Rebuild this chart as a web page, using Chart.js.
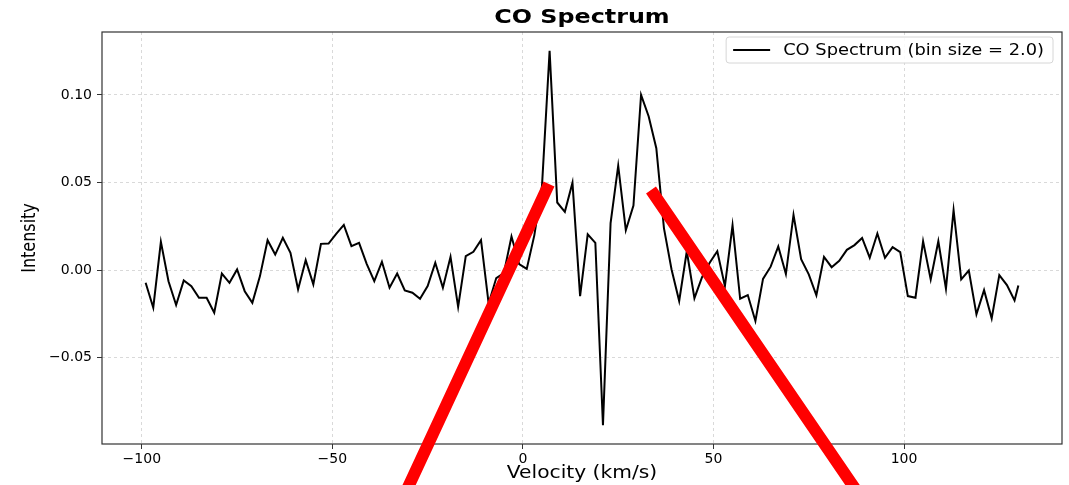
<!DOCTYPE html>
<html>
<head>
<meta charset="utf-8">
<script src="https://cdn.jsdelivr.net/npm/chart.js"></script>
<style>
  html, body { margin: 0; padding: 0; background: #fff; }
  #wrap { width: 1069px; height: 485px; }
</style>
</head>
<body>
<div id="wrap"><canvas id="spectrum" width="1069" height="485"></canvas></div>
<script>
// velocity bin centres (km/s), bin size 2.0
const velocities = [
  -99, -97, -95, -93, -91, -89, -87, -85, -83, -81, -79, -77, -75, -73, -71, -69, -67, -65, -63, -61,
  -59, -57, -55, -53, -51, -49, -47, -45, -43, -41, -39, -37, -35, -33, -31, -29, -27, -25, -23, -21,
  -19, -17, -15, -13, -11, -9, -7, -5, -3, -1, 1, 3, 5, 7, 9, 11, 13, 15, 17, 19,
  21, 23, 25, 27, 29, 31, 33, 35, 37, 39, 41, 43, 45, 47, 49, 51, 53, 55, 57, 59,
  61, 63, 65, 67, 69, 71, 73, 75, 77, 79, 81, 83, 85, 87, 89, 91, 93, 95, 97, 99,
  101, 103, 105, 107, 109, 111, 113, 115, 117, 119, 121, 123, 125, 127, 129, 130
];

const intensities = [
  -0.0072, -0.0214, 0.0162, -0.0063, -0.0199, -0.0059, -0.0091, -0.0157, -0.0157, -0.0243,
  -0.0019, -0.0072, 0.0004, -0.0120, -0.0186, -0.0034, 0.0171, 0.0089, 0.0184, 0.0099,
  -0.0110, 0.0057, -0.0081, 0.0150, 0.0152, 0.0207, 0.0258, 0.0137, 0.0156, 0.0036,
  -0.0063, 0.0048, -0.0100, -0.0019, -0.0116, -0.0129, -0.0163, -0.0091, 0.0042, -0.0100,
  0.0076, -0.0209, 0.0080, 0.0105, 0.0171, -0.0190, -0.0045, -0.0017, 0.0192, 0.0035,
  0.0007, 0.0200, 0.0480, 0.1252, 0.0386, 0.0333, 0.0499, -0.0148, 0.0204, 0.0156,
  -0.0885, 0.0269, 0.0596, 0.0228, 0.0368, 0.1000, 0.0877, 0.0696, 0.0240, 0.0004,
  -0.0176, 0.0108, -0.0160, -0.0040, 0.0042, 0.0108, -0.0091, 0.0256, -0.0163, -0.0142,
  -0.0290, -0.0050, 0.0020, 0.0135, -0.0022, 0.0315, 0.0063, -0.0024, -0.0143, 0.0076,
  0.0017, 0.0053, 0.0116, 0.0143, 0.0184, 0.0071, 0.0209, 0.0071, 0.0131, 0.0103,
  -0.0148, -0.0157, 0.0165, -0.0053, 0.0165, -0.0106, 0.0342, -0.0053, -0.0002, -0.0252,
  -0.0114, -0.0275, -0.0028, -0.0085, -0.0173, -0.0087
];

const xTicks = [-100, -50, 0, 50, 100];
const yTicks = [-0.05, 0.00, 0.05, 0.10];

const chartTitle = 'CO Spectrum';
const xTitle = 'Velocity (km/s)';
const yTitle = 'Intensity';
const seriesLabel = 'CO Spectrum (bin size = 2.0)';

const FONT = "'DejaVu Sans', sans-serif";
const STRETCH = 1.19; // the source picture is widened a little

// matplotlib style 5% margins around the data
const withMargin = (values) => {
  const lo = Math.min(...values);
  const hi = Math.max(...values);
  const pad = (hi - lo) * 0.05;
  return { min: lo - pad, max: hi + pad };
};

const xRange = withMargin(velocities);
const yRange = withMargin(intensities);

const minusSign = (text) => text.replace('-', '\u2212');

const wideText = (ctx, text, x, y, font, align = 'center', rotate = false) => {
  ctx.save();
  ctx.translate(x, y);
  ctx.scale(STRETCH, 1);
  if (rotate) ctx.rotate(-Math.PI / 2);
  ctx.font = font;
  ctx.fillStyle = '#000';
  ctx.textAlign = align;
  ctx.textBaseline = 'middle';
  ctx.fillText(text, 0, 0);
  ctx.restore();
};

// frame, titles, inset legend and the red marker strokes
const decorations = {
  id: 'decorations',
  afterDatasetsDraw(chart) {
    const { ctx, chartArea: area } = chart;
    const midX = (area.left + area.right) / 2;
    ctx.save();
    ctx.strokeStyle = '#333';
    ctx.lineWidth = 1.2;
    ctx.strokeRect(area.left, area.top, area.right - area.left, area.bottom - area.top);
    ctx.restore();

    wideText(ctx, chartTitle, midX, 18, `bold 20px ${FONT}`);
    wideText(ctx, xTitle, midX, 474, `17px ${FONT}`);
    wideText(ctx, yTitle, 30, (area.top + area.bottom) / 2, `16px ${FONT}`, 'center', true);

    ctx.save();
    ctx.font = `15px ${FONT}`;
    const textW = ctx.measureText(seriesLabel).width * STRETCH;
    const boxW = 7 + 37 + 13 + textW + 9;
    const boxH = 26;
    const bx = area.right - 9 - boxW;
    const by = area.top + 5;
    ctx.fillStyle = 'rgba(255,255,255,0.85)';
    ctx.strokeStyle = '#d6d6d6';
    ctx.lineWidth = 1;
    ctx.beginPath();
    ctx.roundRect(bx, by, boxW, boxH, 3);
    ctx.fill();
    ctx.stroke();
    ctx.strokeStyle = '#000';
    ctx.lineWidth = 2;
    ctx.beginPath();
    ctx.moveTo(bx + 7, by + boxH / 2);
    ctx.lineTo(bx + 44, by + boxH / 2);
    ctx.stroke();
    ctx.restore();
    wideText(ctx, seriesLabel, bx + 57, by + boxH / 2 + 1, `15px ${FONT}`, 'left');
  },
  afterDraw(chart) {
    const { ctx } = chart;
    ctx.save();
    ctx.strokeStyle = '#ff0000';
    ctx.lineWidth = 12;
    ctx.lineCap = 'butt';
    ctx.beginPath();
    ctx.moveTo(549, 184);
    ctx.lineTo(404, 496);
    ctx.moveTo(651, 190);
    ctx.lineTo(860, 496);
    ctx.stroke();
    ctx.restore();
  }
};

const $canvas = document.getElementById('spectrum');

const startChart = () => new Chart($canvas, {
  type: 'line',
  data: {
    datasets: [{
      label: seriesLabel,
      data: velocities.map((v, i) => ({ x: v, y: intensities[i] })),
      borderColor: '#000',
      borderWidth: 2,
      pointRadius: 0,
      tension: 0,
      fill: false
    }]
  },
  options: {
    responsive: false,
    animation: false,
    layout: { padding: { left: 0, right: 7, top: 32, bottom: 0 } },
    plugins: {
      legend: { display: false },
      tooltip: { enabled: false },
      title: { display: false }
    },
    scales: {
      x: {
        type: 'linear',
        min: xRange.min,
        max: xRange.max,
        afterFit: (scale) => { scale.height = 41; },
        afterBuildTicks: (scale) => { scale.ticks = xTicks.map(value => ({ value })); },
        ticks: {
          color: '#000',
          font: { family: FONT, size: 14 },
          padding: 2,
          maxRotation: 0,
          callback: (value) => minusSign(String(value))
        },
        grid: { color: '#d0d0d0', lineWidth: 0.8, tickColor: '#333', tickLength: 5, tickWidth: 1 },
        border: { display: false, dash: [3, 3] }
      },
      y: {
        type: 'linear',
        min: yRange.min,
        max: yRange.max,
        afterFit: (scale) => { scale.width = 102; },
        afterBuildTicks: (scale) => { scale.ticks = yTicks.map(value => ({ value })); },
        ticks: {
          color: '#000',
          font: { family: FONT, size: 14 },
          padding: 5,
          callback: (value) => minusSign(value.toFixed(2))
        },
        grid: { color: '#d0d0d0', lineWidth: 0.8, tickColor: '#333', tickLength: 5, tickWidth: 1 },
        border: { display: false, dash: [3, 3] }
      }
    }
  },
  plugins: [decorations]
});

startChart();
</script>
</body>
</html>
